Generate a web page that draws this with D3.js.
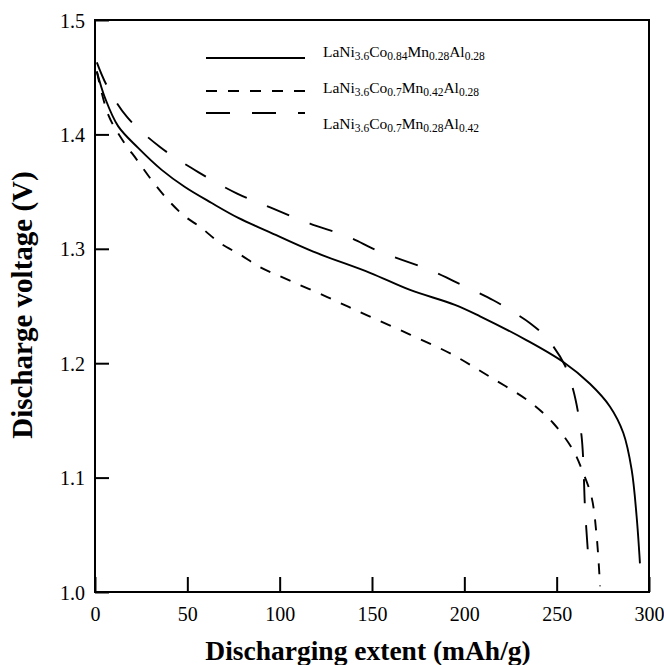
<!DOCTYPE html>
<html>
<head>
<meta charset="utf-8">
<script src="https://cdn.jsdelivr.net/npm/d3@7/dist/d3.min.js"></script>
<style>
  html, body { margin: 0; padding: 0; background: #fff; }
  svg { display: block; }
  svg text { font-family: "Liberation Serif", "Times New Roman", Times, "DejaVu Serif", serif !important; fill: #000; }
</style>
</head>
<body>
<svg id="chart" width="664" height="665"></svg>
<script>
// ---- data ----
const xTicks = [0, 50, 100, 150, 200, 250, 300];
const yTicks = [1.0, 1.1, 1.2, 1.3, 1.4, 1.5];
const xTitle = "Discharging extent (mAh/g)";
const yTitle = "Discharge voltage (V)";

const s1x = [1, 5.4, 12.6, 23.5, 36.1, 48.7, 63.2, 77.6, 93.9, 118.2, 148.9, 170.6, 194.9, 208.5, 233.8, 253.6, 268, 278.9, 286.1, 290.6, 293.3, 295.1];
const s1y = [1.455, 1.432, 1.407, 1.388, 1.369, 1.354, 1.340, 1.327, 1.315, 1.2975, 1.279, 1.264, 1.251, 1.241, 1.220, 1.201, 1.182, 1.162, 1.139, 1.107, 1.066, 1.025];

const s2x = [1, 7.2, 15.3, 22.6, 30.7, 38.8, 47.8, 57.8, 67.7, 78.5, 89.3, 100.2, 125.5, 147.1, 170.6, 193, 213.9, 235.6, 248.2, 258.9, 264.4, 268.9, 271.7, 273.5];
const s2y = [1.455, 1.417, 1.394, 1.378, 1.360, 1.344, 1.3295, 1.318, 1.305, 1.295, 1.284, 1.276, 1.258, 1.242, 1.225, 1.208, 1.188, 1.166, 1.1475, 1.124, 1.104, 1.083, 1.048, 1.005];

const s3x = [1, 6.3, 17.2, 35.2, 55.9, 76.7, 95.2, 116.4, 136.3, 154.3, 181.4, 194, 215.7, 224.7, 235.6, 244.6, 254.5, 258.9, 261.7, 263.5, 264.4, 265.3, 267.1];
const s3y = [1.463, 1.443, 1.4155, 1.389, 1.367, 1.3485, 1.336, 1.322, 1.311, 1.2975, 1.2815, 1.272, 1.255, 1.2465, 1.235, 1.222, 1.198, 1.177, 1.156, 1.136, 1.115, 1.075, 1.031];

const seriesNames = [
  [["LaNi", false], ["3.6", true], ["Co", false], ["0.84", true], ["Mn", false], ["0.28", true], ["Al", false], ["0.28", true]],
  [["LaNi", false], ["3.6", true], ["Co", false], ["0.7", true], ["Mn", false], ["0.42", true], ["Al", false], ["0.28", true]],
  [["LaNi", false], ["3.6", true], ["Co", false], ["0.7", true], ["Mn", false], ["0.28", true], ["Al", false], ["0.42", true]]
];
const dashes = [null, "11,11", "24,22"];

// ---- layout ----
const L = 95, R = 649, T = 20, B = 592;
const svg = d3.select("#chart");
const x = d3.scaleLinear().domain([0, 300]).range([L, R]);
const y = d3.scaleLinear().domain([1.0, 1.5]).range([B, T]);

// frame
svg.append("rect").attr("x", L).attr("y", T).attr("width", R - L).attr("height", B - T)
  .attr("fill", "none").attr("stroke", "#000").attr("stroke-width", 2);

// axes
const xAxis = d3.axisBottom(x).tickValues(xTicks).tickSize(-15).tickPadding(14).tickFormat(d3.format("d"));
const gx = svg.append("g").attr("transform", `translate(0,${B})`).call(xAxis);
gx.attr("font-family", null);
gx.select(".domain").remove();
gx.selectAll("line").attr("stroke", "#000").attr("stroke-width", 2);
gx.selectAll("text").attr("font-size", 20).attr("dy", "0.71em").attr("y", 15);

const yAxis = d3.axisLeft(y).tickValues(yTicks).tickSize(-14).tickPadding(10).tickFormat(d3.format(".1f"));
const gy = svg.append("g").attr("transform", `translate(${L},0)`).call(yAxis);
gy.attr("font-family", null);
gy.select(".domain").remove();
gy.selectAll("line").attr("stroke", "#000").attr("stroke-width", 2);
gy.selectAll("text").attr("font-size", 20).attr("x", -10).attr("dy", "0.35em");

// titles
svg.append("text").attr("x", 368).attr("y", 660).attr("text-anchor", "middle")
  .attr("font-size", 27.5).attr("font-weight", "bold").text(xTitle);
svg.append("text").attr("transform", "translate(32,305) rotate(-90)").attr("text-anchor", "middle")
  .attr("font-size", 29).attr("font-weight", "bold").text(yTitle);

// lines
const line = d3.line().x(d => x(d[0])).y(d => y(d[1])).curve(d3.curveCatmullRom.alpha(0.5));
const data = [d3.zip(s1x, s1y), d3.zip(s2x, s2y), d3.zip(s3x, s3y)];
data.forEach((pts, i) => {
  svg.append("path").datum(pts).attr("d", line)
    .attr("fill", "none").attr("stroke", "#000").attr("stroke-width", 1.9)
    .attr("stroke-dasharray", dashes[i]);
});

// legend
const legY = [58, 91, 113];
const legTextY = [57, 93, 129];
seriesNames.forEach((parts, i) => {
  svg.append("line").attr("x1", 206).attr("x2", 305).attr("y1", legY[i]).attr("y2", legY[i])
    .attr("stroke", "#000").attr("stroke-width", 2).attr("stroke-dasharray", dashes[i]);
  const t = svg.append("text").attr("x", 323).attr("y", legTextY[i]).attr("font-size", 15.5);
  parts.forEach(([s, sub]) => {
    t.append("tspan").text(s)
      .attr("font-size", sub ? 11.5 : 15.5)
      .attr("dy", sub ? 3 : (s === "LaNi" ? 0 : -3));
  });
});
</script>
</body>
</html>
